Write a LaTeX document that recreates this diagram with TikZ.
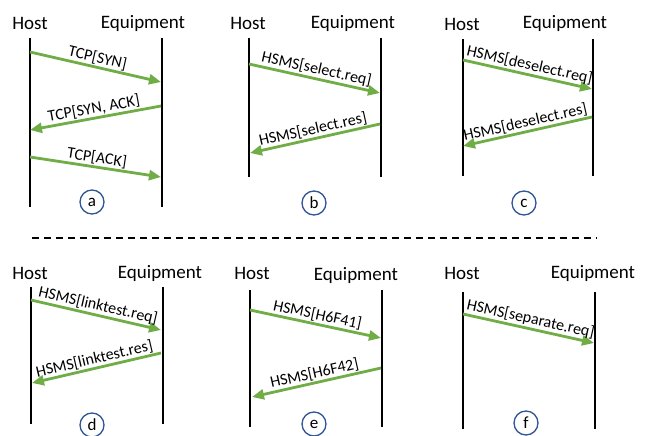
\documentclass[tikz,border=0pt]{standalone}
\usepackage{fontspec}
\setmainfont{Carlito}
\usetikzlibrary{arrows.meta}
\definecolor{msggreen}{RGB}{112,173,71}
\definecolor{tagblue}{RGB}{47,85,151}
\begin{document}
\begin{tikzpicture}[x=1pt,y=-1pt,
  lifeline/.style={line width=2.6pt, black},
  msg/.style={line width=2.8pt, msggreen, -{Triangle[length=12pt,width=10pt]}},
  msglabel/.style={font=\fontsize{16}{18}\selectfont, text=black, sloped, above, inner sep=1pt, midway},
  role/.style={font=\fontsize{19}{21}\selectfont, inner sep=0pt},
  tag/.style={circle, draw=tagblue, line width=1.3pt, minimum size=24pt, inner sep=0pt, font=\fontsize{17}{17}\selectfont},
  divider/.style={line width=2pt, dash pattern=on 7pt off 5pt}]
\useasboundingbox (0,0) rectangle (651,436);

% ---- (a) TCP three-way handshake ----
\node[role] (aH) at (30,23) {Host};
\node[role] (aE) at (143,23) {Equipment};
\coordinate (aHt) at (30,38);  \coordinate (aHb) at (30,207);
\coordinate (aEt) at (162,38); \coordinate (aEb) at (162,207);
\draw[lifeline] (aHt) -- (aHb);
\draw[lifeline] (aEt) -- (aEb);
\coordinate (a1s) at (30,52);   \coordinate (a1e) at (161,82);
\coordinate (a2s) at (161,106); \coordinate (a2e) at (30,130);
\coordinate (a3s) at (30,157);  \coordinate (a3e) at (161,177);
\draw[msg] (a1s) -- node[msglabel] {TCP[SYN]} (a1e);
\draw[msg] (a2s) -- node[msglabel] {TCP[SYN, ACK]} (a2e);
\draw[msg] (a3s) -- node[msglabel] {TCP[ACK]} (a3e);
\node[tag] (aT) at (92,202) {a};

% ---- (b) select ----
\node[role] (bH) at (248,23) {Host};
\node[role] (bE) at (353,23) {Equipment};
\coordinate (bHt) at (249,38);  \coordinate (bHb) at (249,177);
\coordinate (bEt) at (381,38);  \coordinate (bEb) at (381,177);
\draw[lifeline] (bHt) -- (bHb);
\draw[lifeline] (bEt) -- (bEb);
\coordinate (b1s) at (249,64);  \coordinate (b1e) at (380,93);
\coordinate (b2s) at (380,124); \coordinate (b2e) at (250,153);
\draw[msg] (b1s) -- node[msglabel] {HSMS[select.req]} (b1e);
\draw[msg] (b2s) -- node[msglabel] {HSMS[select.res]} (b2e);
\node[tag] (bT) at (314,203) {b};

% ---- (c) deselect ----
\node[role] (cH) at (462,24) {Host};
\node[role] (cE) at (565,23) {Equipment};
\coordinate (cHt) at (463,39);  \coordinate (cHb) at (463,176);
\coordinate (cEt) at (593,39);  \coordinate (cEb) at (593,176);
\draw[lifeline] (cHt) -- (cHb);
\draw[lifeline] (cEt) -- (cEb);
\coordinate (c1s) at (463,60);  \coordinate (c1e) at (592,89);
\coordinate (c2s) at (592,117); \coordinate (c2e) at (463,146);
\draw[msg] (c1s) -- node[msglabel] {HSMS[deselect.req]} (c1e);
\draw[msg] (c2s) -- node[msglabel] {HSMS[deselect.res]} (c2e);
\node[tag] (cT) at (524,203) {c};

% ---- separator ----
\coordinate (sepL) at (32,238); \coordinate (sepR) at (597,238);
\draw[divider] (sepL) -- (sepR);

% ---- (d) linktest ----
\node[role] (dH) at (30,273) {Host};
\node[role] (dE) at (160,273) {Equipment};
\coordinate (dHt) at (31,287);  \coordinate (dHb) at (31,424);
\coordinate (dEt) at (163,287); \coordinate (dEb) at (163,424);
\draw[lifeline] (dHt) -- (dHb);
\draw[lifeline] (dEt) -- (dEb);
\coordinate (d1s) at (31,300);  \coordinate (d1e) at (161,330);
\coordinate (d2s) at (161,353); \coordinate (d2e) at (32,383);
\draw[msg] (d1s) -- node[msglabel] {HSMS[linktest.req]} (d1e);
\draw[msg] (d2s) -- node[msglabel] {HSMS[linktest.res]} (d2e);
\node[tag] (dT) at (92,425) {d};

% ---- (e) data message ----
\node[role] (eH) at (252,273) {Host};
\node[role] (eE) at (356,275) {Equipment};
\coordinate (eHt) at (250,290); \coordinate (eHb) at (250,427);
\coordinate (eEt) at (382,290); \coordinate (eEb) at (382,427);
\draw[lifeline] (eHt) -- (eHb);
\draw[lifeline] (eEt) -- (eEb);
\coordinate (e1s) at (250,310); \coordinate (e1e) at (381,338);
\coordinate (e2s) at (381,368); \coordinate (e2e) at (252,397);
\draw[msg] (e1s) -- node[msglabel] {HSMS[H6F41]} (e1e);
\draw[msg] (e2s) -- node[msglabel] {HSMS[H6F42]} (e2e);
\node[tag] (eT) at (314,424) {e};

% ---- (f) separate ----
\node[role] (fH) at (462,273) {Host};
\node[role] (fE) at (593,273) {Equipment};
\coordinate (fHt) at (463,292); \coordinate (fHb) at (463,429);
\coordinate (fEt) at (595,292); \coordinate (fEb) at (595,429);
\draw[lifeline] (fHt) -- (fHb);
\draw[lifeline] (fEt) -- (fEb);
\coordinate (f1s) at (463,314); \coordinate (f1e) at (594,343);
\draw[msg] (f1s) -- node[msglabel] {HSMS[separate.req]} (f1e);
\node[tag] (fT) at (526,423) {f};
\end{tikzpicture}
\end{document}
